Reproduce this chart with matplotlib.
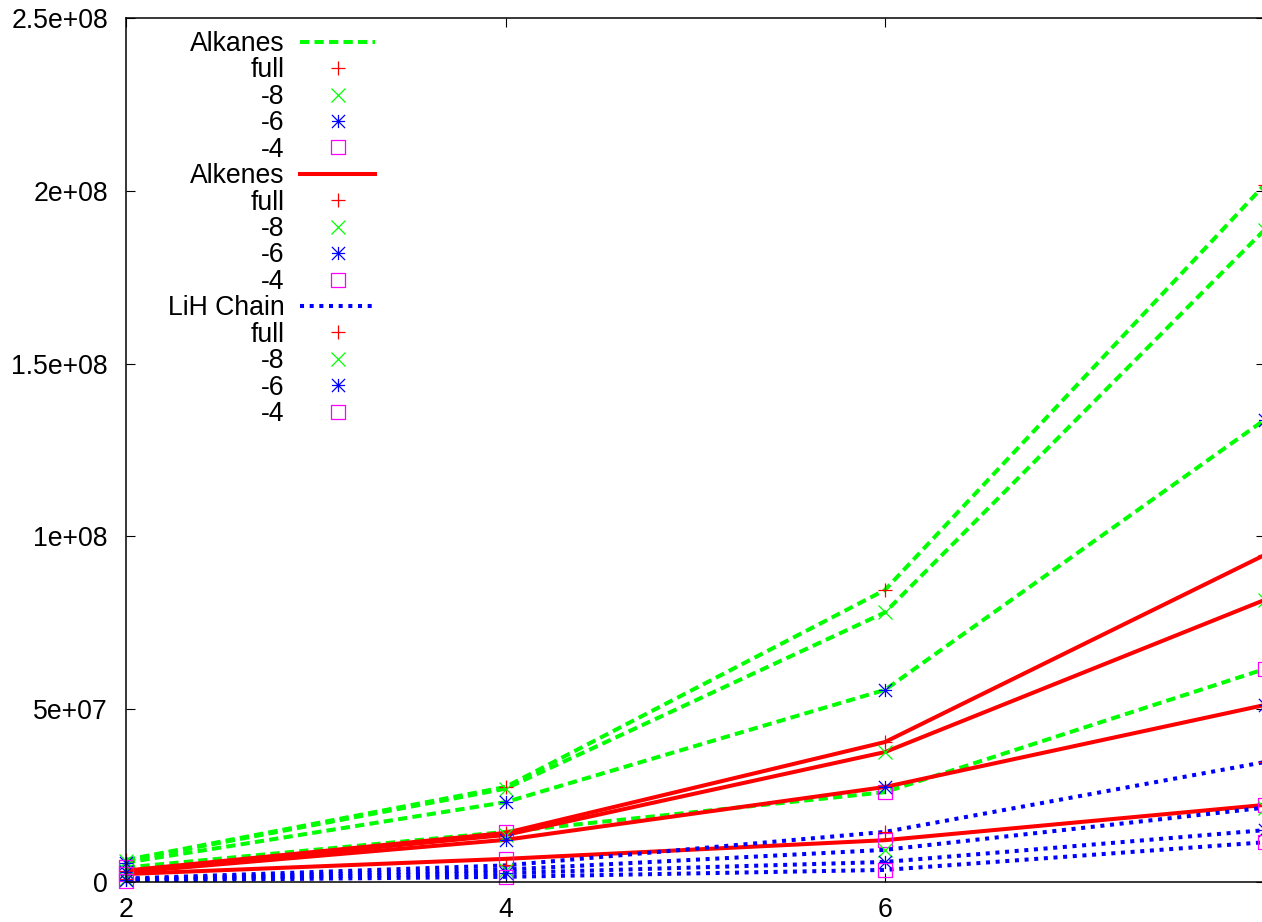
import numpy as np
import matplotlib
matplotlib.use("Agg")
import matplotlib.pyplot as plt
from matplotlib.lines import Line2D
from matplotlib.path import Path

plt.rcParams["font.family"] = ["Liberation Sans", "DejaVu Sans"]

# Data
x_vals = [2, 4, 6, 8]

alkanes_full = [6.4e6, 2.75e7, 8.45e7, 2.017e8]
alkanes_m8 = [6.2e6, 2.70e7, 7.80e7, 1.887e8]
alkanes_m6 = [5.6e6, 2.31e7, 5.56e7, 1.337e8]
alkanes_m4 = [4.2e6, 1.45e7, 2.60e7, 6.16e7]

alkenes_full = [3.3e6, 1.42e7, 4.05e7, 9.46e7]
alkenes_m8 = [3.1e6, 1.36e7, 3.76e7, 8.16e7]
alkenes_m6 = [2.8e6, 1.22e7, 2.75e7, 5.12e7]
alkenes_m4 = [2.3e6, 6.7e6, 1.21e7, 2.23e7]

lih_full = [1.0e6, 4.8e6, 1.45e7, 3.47e7]
lih_m8 = [0.8e6, 3.6e6, 9.3e6, 2.15e7]
lih_m6 = [0.6e6, 2.6e6, 5.8e6, 1.50e7]
lih_m4 = [0.4e6, 1.5e6, 3.5e6, 1.15e7]

variant_labels = ["full", "-8", "-6", "-4"]
group_labels = ["Alkanes", "Alkenes", "LiH Chain"]

y_ticks = [0, 5e7, 1e8, 1.5e8, 2e8, 2.5e8]
y_tick_labels = ["0", "5e+07", "1e+08", "1.5e+08", "2e+08", "2.5e+08"]
x_ticks = [2, 4, 6, 8]
x_tick_labels = ["2", "4", "6", ""]  # the 8 label falls outside the picture

# Styles (gnuplot look)
GREEN = "#00FF00"
RED = "#FF0000"
BLUE = "#0000FF"
MAGENTA = "#FF00FF"
LW = 2.9
FS = 19.2

# custom markers: gnuplot asterisk (+ and x) and box with centre dot
star_path = Path(
    [(-1, 0), (1, 0), (0, -1), (0, 1), (-1, -1), (1, 1), (-1, 1), (1, -1)],
    [Path.MOVETO, Path.LINETO] * 4,
)
box_path = Path(
    [(-1, -1), (1, -1), (1, 1), (-1, 1), (-1, -1), (-0.06, 0), (0.06, 0)],
    [Path.MOVETO, Path.LINETO, Path.LINETO, Path.LINETO, Path.CLOSEPOLY,
     Path.MOVETO, Path.LINETO],
)
variant_markers = ["+", "x", star_path, box_path]
variant_colors = [RED, GREEN, BLUE, MAGENTA]
MS = 9.5
MEW = 0.9

group_styles = [
    dict(color=GREEN, linestyle=(0, (2.3, 1.3))),
    dict(color=RED, linestyle="-"),
    dict(color=BLUE, linestyle=(0, (1.0, 1.4))),
]
group_data = [
    [alkanes_full, alkanes_m8, alkanes_m6, alkanes_m4],
    [alkenes_full, alkenes_m8, alkenes_m6, alkenes_m4],
    [lih_full, lih_m8, lih_m6, lih_m4],
]

fig = plt.figure(figsize=(12.62, 9.22), dpi=100)
ax = fig.add_axes([126 / 1262, 40 / 922, 1138.5 / 1262, 864 / 922])

handles, labels = [], []
for gname, style, series in zip(group_labels, group_styles, group_data):
    for ys in series:
        ax.plot(x_vals, ys, linewidth=LW, dash_capstyle="butt", **style)
    handles.append(Line2D([], [], linewidth=LW, dash_capstyle="butt", **style))
    labels.append(gname)
    for ys, vlab, mk, mc in zip(series, variant_labels, variant_markers, variant_colors):
        ax.plot(x_vals, ys, linestyle="none", marker=mk, markersize=MS,
                markeredgewidth=MEW, markeredgecolor=mc, markerfacecolor="none",
                clip_on=False)
        handles.append(Line2D([], [], linestyle="none", marker=mk, markersize=MS,
                              markeredgewidth=MEW, markeredgecolor=mc,
                              markerfacecolor="none"))
        labels.append(vlab)

ax.set_xlim(2, 8)
ax.set_ylim(0, 2.5e8)
ax.set_xticks(x_ticks)
ax.set_xticklabels(x_tick_labels)
ax.set_yticks(y_ticks)
ax.set_yticklabels(y_tick_labels)
ax.tick_params(direction="in", length=6.5, width=0.8, top=True, right=True,
               labelsize=FS)
ax.tick_params(axis="x", pad=10.5)
ax.tick_params(axis="y", pad=13)
for sp in ax.spines.values():
    sp.set_linewidth(1.1)

ax.legend(handles, labels, loc="upper left", markerfirst=False, frameon=False,
          fontsize=FS, handlelength=2.81, handletextpad=0.58, labelspacing=0.016,
          borderpad=0, borderaxespad=0,
          bbox_to_anchor=(168 / 1262, 1 - 31 / 922), bbox_transform=fig.transFigure)

fig.savefig("out.png", dpi=100)
plt.close(fig)
